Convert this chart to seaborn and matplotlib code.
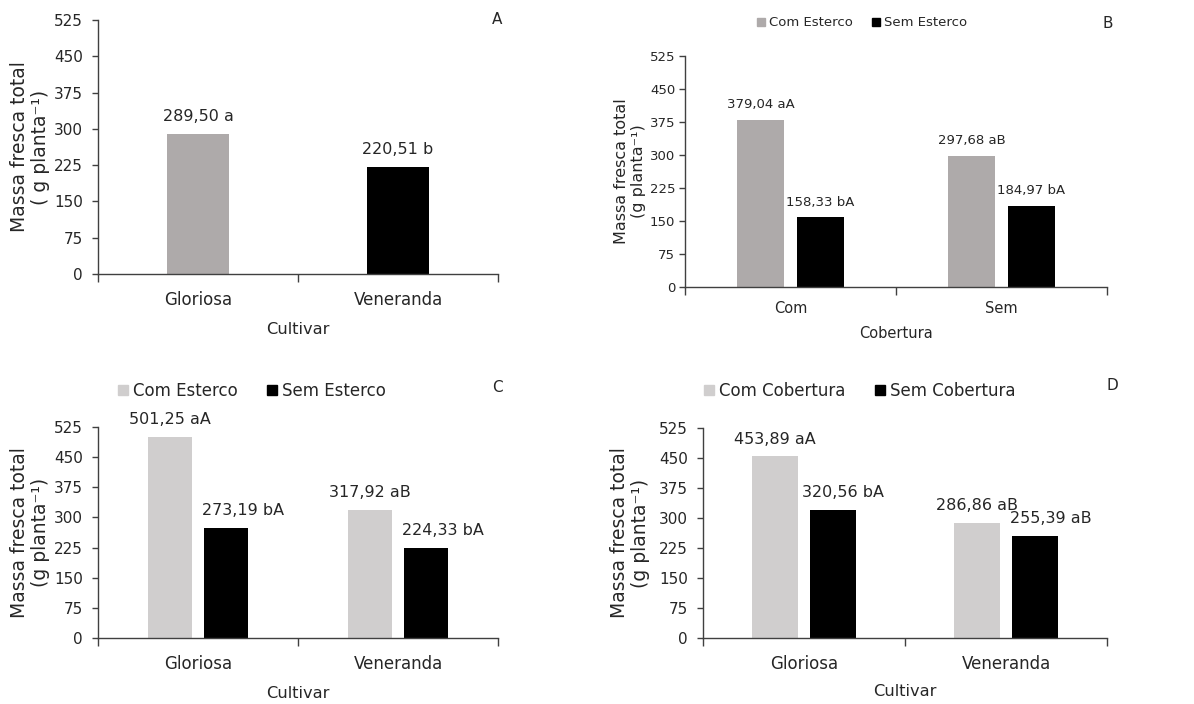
import matplotlib
matplotlib.use("Agg")
import matplotlib.pyplot as plt
import seaborn as sns
import pandas as pd
from matplotlib.patches import Patch

# ---------------- data ----------------
cultivars = ["Gloriosa", "Veneranda"]
a_values = [289.50, 220.51]
a_labels = ["289,50 a", "220,51 b"]

b_cobertura = ["Com", "Sem"]
b_com_esterco = [379.04, 297.68]
b_sem_esterco = [158.33, 184.97]
b_labels_com = ["379,04 aA", "297,68 aB"]
b_labels_sem = ["158,33 bA", "184,97 bA"]

c_com_esterco = [501.25, 317.92]
c_sem_esterco = [273.19, 224.33]
c_labels_com = ["501,25 aA", "317,92 aB"]
c_labels_sem = ["273,19 bA", "224,33 bA"]

d_com_cobertura = [453.89, 286.86]
d_sem_cobertura = [320.56, 255.39]
d_labels_com = ["453,89 aA", "286,86 aB"]
d_labels_sem = ["320,56 bA", "255,39 aB"]

esterco_levels = ["Com Esterco", "Sem Esterco"]
cobertura_levels = ["Com Cobertura", "Sem Cobertura"]
y_ticks = [0, 75, 150, 225, 300, 375, 450, 525]

# ---------------- style ----------------
sns.set_style("white")
plt.rcParams["font.family"] = ["DejaVu Sans"]
TXT = "#262626"
AX = "#404040"
GRAY_DARK = "#AEAAAA"
GRAY_LIGHT = "#D0CECE"

fig = plt.figure(figsize=(11.94, 7.04), dpi=100)
W, H = 1194, 704


def make_ax(left, right, top, bottom):
    return fig.add_axes([left / W, (H - bottom) / H, (right - left) / W, (bottom - top) / H])


def style_ax(ax, tick_fs, xtick_fs, ytick_pad, ylabel, ylabel_fs, ylab_x, xlabel, xlabel_fs, xlab_y, xtick_pad):
    ax.set_ylim(0, 525)
    ax.set_xlim(-0.5, 1.5)
    ax.set_yticks(y_ticks)
    ax.set_yticklabels([str(t) for t in y_ticks])
    ax.set_xticks([-0.5, 0.5, 1.5], minor=True)
    for s in ["top", "right"]:
        ax.spines[s].set_visible(False)
    for s in ["left", "bottom"]:
        ax.spines[s].set_color(AX)
        ax.spines[s].set_linewidth(1.0)
    ax.tick_params(axis="y", which="major", left=True, direction="out", length=4, width=1, color=AX,
                   labelsize=tick_fs, labelcolor=TXT, pad=ytick_pad)
    ax.tick_params(axis="x", which="major", bottom=False, length=0, labelsize=xtick_fs,
                   labelcolor=TXT, pad=xtick_pad)
    ax.tick_params(axis="x", which="minor", bottom=True, direction="out", length=6, width=1, color=AX)
    ax.set_ylabel(ylabel, fontsize=ylabel_fs, color=TXT, linespacing=1.15)
    ax.yaxis.set_label_coords(ylab_x, 0.5)
    ax.yaxis.label.set_va("center")
    ax.set_xlabel(xlabel, fontsize=xlabel_fs, color=TXT)
    ax.xaxis.set_label_coords(0.5, xlab_y)
    ax.xaxis.label.set_va("center")


def annotate(ax, labels_by_hue, fs, dy_pt, dx_pts):
    for ci, (cont, labels) in enumerate(zip(ax.containers, labels_by_hue)):
        for bi, (bar, lab) in enumerate(zip(cont.patches, labels)):
            x = bar.get_x() + bar.get_width() / 2
            y = bar.get_height()
            ax.annotate(lab, xy=(x, y), xytext=(dx_pts[ci][bi], dy_pt), textcoords="offset points",
                        ha="center", va="center", fontsize=fs, color=TXT)


# ---------------- Panel A ----------------
axA = make_ax(98, 498, 20, 274)
dfA = pd.DataFrame({"Cultivar": cultivars, "valor": a_values})
sns.barplot(data=dfA, x="Cultivar", y="valor", hue="Cultivar", hue_order=cultivars,
            palette=[GRAY_DARK, "black"], width=0.31, saturation=1, linewidth=0,
            legend=False, ax=axA)
style_ax(axA, 11, 12, 7, "Massa fresca total\n( g planta⁻¹)", 13.5, -0.17,
         "Cultivar", 11.7, -0.22, 12)
for bar_cont, lab in zip(axA.containers, a_labels):
    for bar in bar_cont.patches:
        axA.annotate(lab, xy=(bar.get_x() + bar.get_width() / 2, bar.get_height()),
                     xytext=(0, 12.5), textcoords="offset points", ha="center", va="center",
                     fontsize=11.5, color=TXT)
fig.text(497 / W, 1 - 20 / H, "A", ha="center", va="center", fontsize=11, color=TXT)

# ---------------- Panel B ----------------
axB = make_ax(685, 1107, 56, 287)
dfB = pd.DataFrame({
    "Cobertura": b_cobertura * 2,
    "valor": b_com_esterco + b_sem_esterco,
    "Esterco": [esterco_levels[0]] * 2 + [esterco_levels[1]] * 2,
})
sns.barplot(data=dfB, x="Cobertura", y="valor", hue="Esterco", hue_order=esterco_levels,
            palette=[GRAY_DARK, "black"], width=0.569, gap=0.217, saturation=1, linewidth=0,
            legend=False, ax=axB)
style_ax(axB, 9.5, 10.5, 3, "Massa fresca total\n(g planta⁻¹)", 11.5, -0.13,
         "Cobertura", 10.5, -0.2, 10)
annotate(axB, [b_labels_com, b_labels_sem], 9.5, 11, [[0, 0], [0, 0]])
fig.legend(handles=[Patch(color=GRAY_DARK, label=esterco_levels[0]),
                    Patch(color="black", label=esterco_levels[1])],
           loc="center", bbox_to_anchor=(862 / W, 1 - 23 / H), ncol=2, frameon=False,
           fontsize=9.5, handlelength=0.6, handleheight=0.6, handletextpad=0.3,
           columnspacing=1.5, labelcolor=TXT)
fig.text(1108 / W, 1 - 23 / H, "B", ha="center", va="center", fontsize=11, color=TXT)

# ---------------- Panel C ----------------
axC = make_ax(98, 498, 427, 638)
dfC = pd.DataFrame({
    "Cultivar": cultivars * 2,
    "valor": c_com_esterco + c_sem_esterco,
    "Esterco": [esterco_levels[0]] * 2 + [esterco_levels[1]] * 2,
})
sns.barplot(data=dfC, x="Cultivar", y="valor", hue="Esterco", hue_order=esterco_levels,
            palette=[GRAY_LIGHT, "black"], width=0.56, gap=0.2, saturation=1, linewidth=0,
            legend=False, ax=axC)
style_ax(axC, 11, 12, 7, "Massa fresca total\n(g planta⁻¹)", 13.5, -0.17,
         "Cultivar", 11.7, -0.262, 12)
annotate(axC, [c_labels_com, c_labels_sem], 11.5, 12.5, [[0, 0], [12, 12]])
fig.legend(handles=[Patch(color=GRAY_LIGHT, label=esterco_levels[0]),
                    Patch(color="black", label=esterco_levels[1])],
           loc="center", bbox_to_anchor=(252 / W, 1 - 391 / H), ncol=2, frameon=False,
           fontsize=12, handlelength=0.6, handleheight=0.6, handletextpad=0.3,
           columnspacing=1.8, labelcolor=TXT)
fig.text(497 / W, 1 - 388 / H, "C", ha="center", va="center", fontsize=11, color=TXT)

# ---------------- Panel D ----------------
axD = make_ax(703, 1107, 428, 638)
dfD = pd.DataFrame({
    "Cultivar": cultivars * 2,
    "valor": d_com_cobertura + d_sem_cobertura,
    "Cobertura": [cobertura_levels[0]] * 2 + [cobertura_levels[1]] * 2,
})
sns.barplot(data=dfD, x="Cultivar", y="valor", hue="Cobertura", hue_order=cobertura_levels,
            palette=[GRAY_LIGHT, "black"], width=0.57, gap=0.2, saturation=1, linewidth=0,
            legend=False, ax=axD)
style_ax(axD, 11, 12, 7, "Massa fresca total\n(g planta⁻¹)", 13.5, -0.18,
         "Cultivar", 11.7, -0.257, 12)
annotate(axD, [d_labels_com, d_labels_sem], 11.5, 12.5, [[0, 0], [7, 11.5]])
fig.legend(handles=[Patch(color=GRAY_LIGHT, label=cobertura_levels[0]),
                    Patch(color="black", label=cobertura_levels[1])],
           loc="center", bbox_to_anchor=(860 / W, 1 - 391 / H), ncol=2, frameon=False,
           fontsize=12, handlelength=0.6, handleheight=0.6, handletextpad=0.3,
           columnspacing=1.8, labelcolor=TXT)
fig.text(1112 / W, 1 - 385 / H, "D", ha="center", va="center", fontsize=11, color=TXT)

fig.savefig("out.png", dpi=100, facecolor="white")
